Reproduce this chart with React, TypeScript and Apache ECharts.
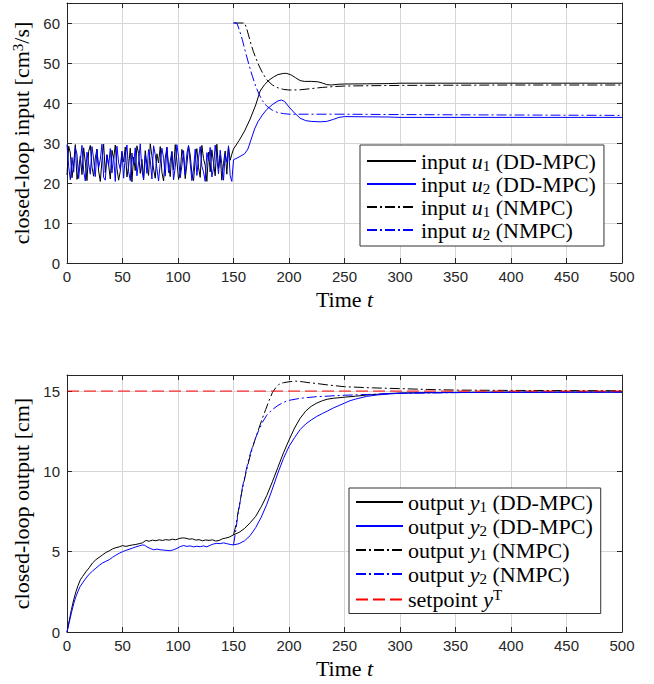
import React, { useEffect, useRef } from 'react';
import * as echarts from 'echarts';

// ---------- data ----------
const noiseStep = 1.5; // excitation samples at t = 0, 1.5, 3, ..., 148.5

const u1Noise = [
  22.0, 29.2, 27.5, 21.3, 24.8, 29.6, 20.9, 23.4, 26.7, 22.1,
  28.8, 25.2, 20.6, 27.9, 29.4, 24.0, 21.7, 26.3, 28.5, 23.0,
  20.4, 25.6, 29.7, 22.6, 27.1, 24.5, 21.0, 28.2, 26.0, 29.5,
  23.7, 20.7, 22.9, 27.6, 25.3, 29.0, 21.5, 24.2, 28.7, 20.3,
  26.5, 23.1, 29.3, 27.4, 22.4, 25.9, 20.8, 28.1, 24.6, 21.9,
  29.8, 26.8, 23.5, 21.2, 27.3, 25.0, 29.1, 22.7, 20.5, 26.2,
  28.9, 24.3, 21.6, 27.8, 23.3, 29.6, 25.5, 20.9, 22.5, 28.4,
  26.6, 21.1, 24.7, 29.2, 27.0, 22.3, 20.6, 25.8, 28.6, 23.9,
  21.4, 29.4, 26.1, 24.4, 20.4, 27.7, 22.8, 28.3, 25.1, 21.8,
  29.7, 23.6, 26.9, 20.7, 24.9, 28.0, 22.2, 29.0, 25.7, 27.2,
];
const u2Noise = [
  29.6, 24.1, 20.8, 26.4, 22.7, 28.9, 27.2, 21.1, 25.5, 29.4,
  23.0, 20.5, 27.7, 24.8, 22.2, 29.1, 26.0, 21.6, 28.3, 23.8,
  25.9, 29.7, 21.4, 20.7, 27.0, 24.3, 28.6, 22.5, 26.8, 20.4,
  29.2, 25.1, 23.4, 28.0, 21.2, 26.5, 29.5, 22.9, 20.6, 27.5,
  24.6, 28.8, 21.8, 25.3, 29.8, 23.2, 20.9, 26.9, 22.4, 28.4,
  25.7, 21.0, 29.3, 27.1, 23.6, 20.5, 24.9, 28.7, 26.2, 21.7,
  29.0, 22.6, 25.4, 27.9, 20.8, 23.9, 29.6, 26.6, 21.3, 24.4,
  28.1, 22.0, 27.4, 29.4, 25.0, 20.6, 23.5, 28.5, 21.9, 26.3,
  29.1, 24.2, 22.8, 20.4, 27.6, 25.6, 28.9, 21.5, 23.7, 29.5,
  26.1, 22.3, 28.2, 24.7, 20.7, 27.3, 25.2, 29.3, 21.8, 20.4,
];
const u1DDTail = [
  [150, 28.5], [155, 30.6], [160, 33.0], [165, 36.0], [170, 39.5], [174, 43.0],
  [178, 44.6], [182, 45.7], [186, 46.5], [190, 47.1], [195, 47.4], [198, 47.4],
  [202, 47.0], [206, 46.3], [210, 45.6], [214, 45.4], [220, 45.4], [226, 45.3],
  [230, 45.0], [234, 44.6], [238, 44.5], [245, 44.7], [250, 44.75], [270, 44.8],
  [290, 44.85], [300, 44.95], [350, 44.95], [400, 44.95], [500, 44.95],
];
const u2DDTail = [
  [150, 25.8], [155, 26.5], [160, 27.3], [163, 28.5], [166, 31.0], [169, 33.5],
  [172, 35.3], [176, 37.0], [180, 38.4], [185, 39.6], [190, 40.5], [193, 40.75],
  [196, 40.4], [200, 39.0], [205, 37.5], [210, 36.2], [215, 35.6], [220, 35.4],
  [228, 35.3], [234, 35.4], [240, 35.9], [245, 36.4], [250, 36.6], [270, 36.55],
  [290, 36.5], [300, 36.4], [400, 36.4], [500, 36.4],
];
const u1NMPC = [
  [150, 60], [160, 60], [162, 58.5], [164, 56.5], [166, 54.5], [168, 52.8],
  [170, 51.3], [173, 49.3], [176, 47.6], [180, 45.8], [185, 44.5], [190, 43.8],
  [195, 43.4], [200, 43.25], [210, 43.3], [220, 43.6], [230, 43.9], [240, 44.1],
  [250, 44.25], [300, 44.4], [400, 44.5], [500, 44.5],
];
const u2NMPC = [
  [150, 60], [153, 60], [155, 58.5], [158, 55.8], [161, 52.5], [164, 49.5],
  [167, 46.7], [170, 44.2], [173, 42.2], [176, 40.6], [180, 39.2], [185, 38.2],
  [190, 37.6], [195, 37.35], [200, 37.2], [250, 37.2], [300, 37.1], [400, 37.0],
  [500, 36.9],
];

const y1DD = [
  [0, 0], [2, 0.7], [4, 1.4], [6, 2.0], [8, 2.5], [10, 2.9], [12, 3.25], [14, 3.45],
  [17, 3.75], [20, 4.0], [23, 4.3], [26, 4.5], [29, 4.65], [32, 4.8], [35, 4.95],
  [38, 5.05], [41, 5.17], [44, 5.25], [47, 5.3], [50, 5.38], [53, 5.33], [56, 5.38],
  [59, 5.42], [62, 5.45], [65, 5.5], [68, 5.55], [71, 5.7], [74, 5.65], [77, 5.72],
  [80, 5.68], [83, 5.74], [86, 5.7], [89, 5.75], [92, 5.72], [95, 5.78], [98, 5.74],
  [101, 5.82], [104, 5.86], [107, 5.84], [110, 5.78], [113, 5.8], [116, 5.72],
  [119, 5.75], [122, 5.68], [125, 5.73], [128, 5.7], [131, 5.74], [134, 5.66],
  [137, 5.7], [140, 5.8], [143, 5.85], [146, 5.9], [150, 6.05], [155, 6.2],
  [160, 6.45], [165, 6.8], [170, 7.2], [175, 7.8], [180, 8.5], [185, 9.35],
  [190, 10.25], [195, 11.15], [200, 11.95], [205, 12.7], [210, 13.3], [215, 13.75],
  [220, 14.05], [225, 14.25], [230, 14.4], [235, 14.5], [240, 14.55], [250, 14.62],
  [260, 14.68], [270, 14.75], [280, 14.8], [290, 14.85], [300, 14.88], [320, 14.9],
  [350, 14.92], [400, 14.93], [500, 14.94],
];
const y2DD = [
  [0, 0], [2, 0.6], [4, 1.2], [6, 1.75], [8, 2.2], [10, 2.55], [12, 2.85], [14, 3.05],
  [17, 3.35], [20, 3.6], [23, 3.8], [26, 3.97], [29, 4.15], [32, 4.3], [35, 4.4],
  [38, 4.5], [41, 4.65], [44, 4.78], [47, 4.9], [50, 5.0], [53, 5.08], [56, 5.15],
  [59, 5.22], [62, 5.3], [65, 5.36], [68, 5.42], [70, 5.4], [72, 5.3], [75, 5.2],
  [78, 5.12], [81, 5.16], [84, 5.12], [87, 5.1], [90, 5.08], [93, 5.06], [96, 5.12],
  [99, 5.2], [102, 5.32], [105, 5.38], [108, 5.33], [111, 5.36], [114, 5.3],
  [117, 5.34], [120, 5.31], [123, 5.36], [126, 5.3], [129, 5.4], [132, 5.48],
  [135, 5.52], [138, 5.5], [141, 5.55], [144, 5.5], [147, 5.45], [150, 5.42],
  [155, 5.5], [160, 5.68], [165, 6.0], [170, 6.5], [175, 7.15], [180, 7.95],
  [185, 8.9], [190, 9.9], [195, 10.8], [200, 11.55], [205, 12.1], [210, 12.6],
  [215, 12.95], [220, 13.2], [225, 13.42], [230, 13.6], [235, 13.77], [240, 13.95],
  [245, 14.1], [250, 14.25], [255, 14.4], [260, 14.5], [270, 14.67], [280, 14.76],
  [290, 14.82], [300, 14.86], [320, 14.89], [350, 14.91], [400, 14.92], [500, 14.93],
];
const y1NMPC = [
  [150, 6.05], [152, 6.6], [155, 7.8], [158, 8.9], [161, 9.85], [164, 10.7],
  [167, 11.45], [170, 12.1], [173, 12.7], [176, 13.3], [179, 13.85], [182, 14.4],
  [185, 14.9], [188, 15.2], [191, 15.42], [195, 15.52], [200, 15.58], [206, 15.62],
  [212, 15.58], [218, 15.52], [225, 15.47], [235, 15.38], [250, 15.27], [275, 15.2],
  [300, 15.15], [325, 15.1], [350, 15.06], [400, 15.04], [450, 15.03], [500, 15.02],
];
const y2NMPC = [
  [150, 5.42], [152, 6.3], [154, 7.3], [156, 8.1], [158, 9.0], [161, 9.95],
  [164, 10.85], [167, 11.5], [170, 12.1], [173, 12.6], [176, 13.05], [180, 13.5],
  [185, 13.85], [190, 14.1], [195, 14.3], [200, 14.42], [210, 14.55], [225, 14.65],
  [250, 14.74], [275, 14.8], [300, 14.86], [350, 14.9], [400, 14.93], [500, 14.95],
];
const setpointValue = 15;
const tRange = [0, 500];

// ---------- styling ----------
const SERIF = 'Liberation Serif';
const SANS = 'Liberation Sans';
const AX = '#262626';
const GRIDC = '#d6d6d6';
const DASHDOT = [10, 3, 2, 3];
const FS = 22;

const richStyles = (lh: number) => ({
  n: { fontFamily: SERIF, fontSize: FS, color: '#000', lineHeight: lh },
  i: { fontFamily: SERIF, fontSize: FS, fontStyle: 'italic', color: '#000', lineHeight: lh },
  s: { fontFamily: SERIF, fontSize: 15, color: '#000', lineHeight: 15, verticalAlign: 'bottom' },
  sup: { fontFamily: SERIF, fontSize: 15, color: '#000', lineHeight: 15, verticalAlign: 'top' },
});

const legendLabels: Record<string, string> = {
  'input u1 (DD-MPC)': '{n|input }{i|u}{s|1}{n| (DD-MPC)}',
  'input u2 (DD-MPC)': '{n|input }{i|u}{s|2}{n| (DD-MPC)}',
  'input u1 (NMPC)': '{n|input }{i|u}{s|1}{n| (NMPC)}',
  'input u2 (NMPC)': '{n|input }{i|u}{s|2}{n| (NMPC)}',
  'output y1 (DD-MPC)': '{n|output }{i|y}{s|1}{n| (DD-MPC)}',
  'output y2 (DD-MPC)': '{n|output }{i|y}{s|2}{n| (DD-MPC)}',
  'output y1 (NMPC)': '{n|output }{i|y}{s|1}{n| (NMPC)}',
  'output y2 (NMPC)': '{n|output }{i|y}{s|2}{n| (NMPC)}',
  'setpoint yT': '{n|setpoint }{i|y}{sup|T}',
};

function noiseToPairs(vals: number[]) {
  return vals.map((v, i) => [i * noiseStep, v]);
}

function mainX(gridIndex: number) {
  return {
    type: 'value', gridIndex, min: tRange[0], max: tRange[1], interval: 50,
    position: 'bottom',
    axisLine: { show: true, onZero: false, lineStyle: { color: AX, width: 1 } },
    axisTick: { show: true, inside: true, length: 5, lineStyle: { color: AX } },
    axisLabel: { color: AX, fontFamily: SANS, fontSize: 15, margin: 6 },
    splitLine: { show: true, lineStyle: { color: GRIDC, width: 1 } },
    name: '{n|Time }{i|t}', nameLocation: 'middle', nameGap: 25,
    nameTextStyle: { fontFamily: SERIF, fontSize: FS, rich: richStyles(22) },
  };
}
function helperX(gridIndex: number) {
  return {
    type: 'value', gridIndex, min: tRange[0], max: tRange[1], interval: 50,
    position: 'top',
    axisLine: { show: true, onZero: false, lineStyle: { color: AX, width: 1 } },
    axisTick: { show: true, inside: true, length: 5, lineStyle: { color: AX } },
    axisLabel: { show: false }, splitLine: { show: false },
  };
}
function mainY(gridIndex: number, max: number, interval: number, name: string) {
  return {
    type: 'value', gridIndex, min: 0, max, interval, position: 'left',
    axisLine: { show: true, onZero: false, lineStyle: { color: AX, width: 1 } },
    axisTick: { show: true, inside: true, length: 5, lineStyle: { color: AX } },
    axisLabel: { color: AX, fontFamily: SANS, fontSize: 15, margin: 7, showMaxLabel: false },
    splitLine: { show: true, lineStyle: { color: GRIDC, width: 1 } },
    name, nameLocation: 'middle', nameGap: 33, nameRotate: 90,
    nameTextStyle: { fontFamily: SERIF, fontSize: FS, rich: richStyles(22) },
  };
}
function helperY(gridIndex: number, max: number, interval: number) {
  return {
    type: 'value', gridIndex, min: 0, max, interval, position: 'right',
    axisLine: { show: true, onZero: false, lineStyle: { color: AX, width: 1 } },
    axisTick: { show: true, inside: true, length: 5, lineStyle: { color: AX } },
    axisLabel: { show: false }, splitLine: { show: false },
  };
}

function lineSeries(name: string, data: number[][], color: string, type: any, gi: number, z = 2) {
  return {
    type: 'line', name, data, xAxisIndex: gi, yAxisIndex: gi,
    showSymbol: false, symbol: 'none', silent: true, z,
    lineStyle: { color, width: 1, type },
    itemStyle: { color },
  };
}

export default function App() {
  const ref = useRef<HTMLDivElement>(null);
  useEffect(() => {
    if (!ref.current) return;
    const chart = echarts.init(ref.current, undefined, { renderer: 'svg' });
    const u1DD = noiseToPairs(u1Noise).concat(u1DDTail);
    const u2DD = noiseToPairs(u2Noise).concat(u2DDTail);
    const setpoint = [[tRange[0], setpointValue], [tRange[1], setpointValue]];

    const legendBase = {
      orient: 'vertical', selectedMode: false,
      backgroundColor: '#fff', borderColor: '#333', borderWidth: 1,
      itemHeight: 13,
      itemStyle: { opacity: 0 },
      formatter: (n: string) => legendLabels[n] || n,
    };

    chart.setOption({
      animation: false,
      backgroundColor: '#fff',
      grid: [
        { left: 67, right: 32, top: 3, height: 260 },
        { left: 67, right: 32, top: 375, height: 257 },
      ],
      xAxis: [mainX(0), mainX(1), helperX(0), helperX(1)],
      yAxis: [
        mainY(0, 65, 10, '{n|closed-loop input [cm}{sup|3}{n|/s]}'),
        mainY(1, 16, 5, '{n|closed-loop output [cm]}'),
        helperY(0, 65, 10),
        helperY(1, 16, 5),
      ],
      legend: [
        {
          ...legendBase,
          data: ['input u1 (DD-MPC)', 'input u2 (DD-MPC)', 'input u1 (NMPC)', 'input u2 (NMPC)'],
          left: 360, top: 145, itemWidth: 49, itemGap: 0,
          padding: [5, 8, 4, 6],
          textStyle: { fontFamily: SERIF, fontSize: FS, rich: richStyles(24) },
        },
        {
          ...legendBase,
          data: ['output y1 (DD-MPC)', 'output y2 (DD-MPC)', 'output y1 (NMPC)', 'output y2 (NMPC)', 'setpoint yT'],
          left: 349, top: 488, itemWidth: 47, itemGap: 0.5,
          padding: [3, 8, 3, 6],
          textStyle: { fontFamily: SERIF, fontSize: FS, rich: richStyles(25) },
        },
      ],
      series: [
        lineSeries('input u1 (DD-MPC)', u1DD, '#000000', 'solid', 0),
        lineSeries('input u2 (DD-MPC)', u2DD, '#0000ff', 'solid', 0),
        lineSeries('input u1 (NMPC)', u1NMPC, '#000000', DASHDOT, 0),
        lineSeries('input u2 (NMPC)', u2NMPC, '#0000ff', DASHDOT, 0),
        lineSeries('output y1 (DD-MPC)', y1DD, '#000000', 'solid', 1),
        lineSeries('output y2 (DD-MPC)', y2DD, '#0000ff', 'solid', 1),
        lineSeries('output y1 (NMPC)', y1NMPC, '#000000', DASHDOT, 1),
        lineSeries('output y2 (NMPC)', y2NMPC, '#0000ff', DASHDOT, 1),
        lineSeries('setpoint yT', setpoint, '#ff0000', [12, 5], 1, 3),
      ],
    });
    return () => chart.dispose();
  }, []);
  return (
    <div
      ref={ref}
      style={{ position: 'fixed', left: 0, top: 0, width: 654, height: 684, background: '#fff' }}
    />
  );
}
